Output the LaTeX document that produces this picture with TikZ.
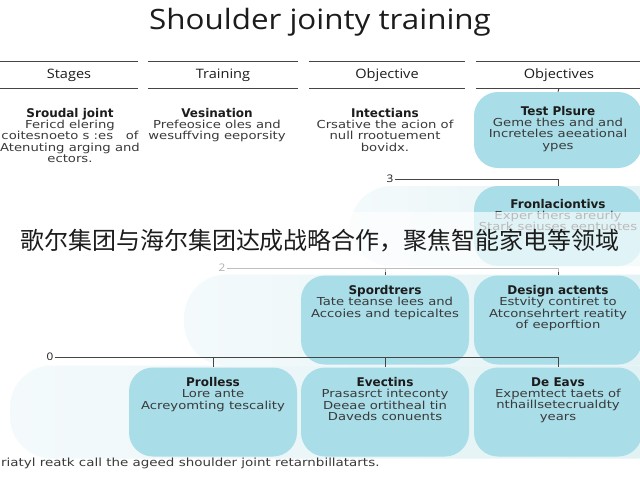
\documentclass[tikz,border=0pt]{standalone}
\usepackage{fontspec}
\setmainfont[FakeStretch=1.2]{DejaVu Sans}
\newfontfamily\titlefont{DejaVu Sans}
\newfontfamily\headfont[FakeStretch=1.12]{Open Sans}
\newfontfamily\cjk{Noto Sans CJK SC}
\usetikzlibrary{positioning,calc}
\definecolor{Ink}{HTML}{1C1C1C}
\definecolor{Body}{HTML}{3A3A3A}
\definecolor{Cyan}{HTML}{A9DDE7}
\definecolor{Pale}{HTML}{E0F1F4}
\definecolor{Rule}{HTML}{454545}
\tikzset{
  card/.style={fill=Cyan, rounded corners=24pt, minimum width=168pt, minimum height=89pt, inner sep=0pt},
  lane/.style={left color=Pale!35, right color=Pale, rounded corners=42pt, inner sep=0pt},
  head/.style={font=\headfont\fontsize{13}{15}\selectfont, text=Ink, minimum height=26pt, inner sep=0pt},
  cardtext/.style={align=center, font=\fontsize{11}{11.3}\selectfont, text=Body, inner sep=0pt},
  wire/.style={Rule, line width=0.9pt},
  stage/.style={font=\headfont\fontsize{10.5}{12}\selectfont, text=Ink, inner sep=1pt}
}
\newcommand{\cardtitle}[1]{{\titlefont\fontsize{12}{13}\selectfont\bfseries\color{Ink}#1}}

\begin{document}
\begin{tikzpicture}[x=1pt, y=-1pt]
    \useasboundingbox (0,0) rectangle (640,480);
    \clip (0,0) rectangle (640,480);
    \fill[white] (0,0) rectangle (640,480);
    % title and column heads
    \node[font=\headfont\fontsize{28}{30}\selectfont, text=Ink] (title) at (320,22) {Shoulder jointy training};
    \node[head, minimum width=137pt] (h1) at (69,75) {Stages};
    \node[head, minimum width=150pt] (h2) at (223,75) {Training};
    \node[head, minimum width=155pt] (h3) at (387,75) {Objective};
    \node[head, minimum width=166pt] (h4) at (559,75) {Objectives};
    \foreach \h in {h1,h2,h3,h4} {
      \draw[wire] (\h.north west) -- (\h.north east);
      \draw[wire] (\h.south west) -- (\h.south east);
    }
    % first row
    \node[cardtext, anchor=north] (sr) at (70,108) {\cardtitle{Sroudal joint}\\Fericd elering\\coitesnoeto s :es~~ of\\Atenuting arging and\\ectors.};
    \node[cardtext, anchor=north] (ve) at (217,108) {\cardtitle{Vesination}\\Prefeosice oles and\\wesuffving eeporsity};
    \node[cardtext, anchor=north] (in) at (385,108) {\cardtitle{Intectians}\\Crsative the acion of\\null rrootuement\\bovidx.};
    \node[card, minimum height=76pt] (tp) at (558,130) {};
    \node[cardtext, below=14pt of tp.north] (tp-t) {\cardtitle{Test Plsure}\\Geme thes and and\\Increteles aeeational\\ypes};
    \draw[wire] (h4.south) -- (tp.north);
    % stage 3
    \node[lane, minimum width=330pt, minimum height=80pt] (lane3) at (515,226) {};
    \node[card, minimum height=80pt] (fr) at (558,226) {};
    \node[cardtext, below=13pt of fr.north] (fr-t) {\cardtitle{Fronlaciontivs}\\Exper thers areurly\\Stark seiuses eentuotes};
    \node[stage] (n3) at (390,179) {3};
    \draw[wire] (n3.east) -- (n3.east -| fr.north) -- (fr.north);
    % stage 2
    \node[lane, minimum width=495pt, minimum height=91pt] (lane2) at (432,320) {};
    \node[card] (sp) at (385,320) {};
    \node[card] (da) at (558,320) {};
    \node[cardtext, below=10pt of sp.north] (sp-t) {\cardtitle{Spordtrers}\\Tate teanse lees and\\Accoies and tepicaltes};
    \node[cardtext, below=10pt of da.north] (da-t) {\cardtitle{Design actents}\\Estvity contiret to\\Atconsehrtert reatity\\of eeporftion};
    \node[stage] (n2) at (222,268) {2};
    \draw[wire] (n2.east) -- (n2.east -| da.north) -- (da.north);
    \draw[wire] (n2.east -| sp.north) -- (sp.north);
    % stage 0
    \node[lane, minimum width=670pt, minimum height=93pt] (lane0) at (345,412) {};
    \node[card] (pr) at (213,412) {};
    \node[card] (ev) at (385,412) {};
    \node[card] (de) at (558,412) {};
    \node[cardtext, below=10pt of pr.north] (pr-t) {\cardtitle{Prolless}\\Lore ante\\Acreyomting tescality};
    \node[cardtext, below=10pt of ev.north] (ev-t) {\cardtitle{Evectins}\\Prasasrct inteconty\\Deeae ortitheal tin\\Daveds conuents};
    \node[cardtext, below=10pt of de.north] (de-t) {\cardtitle{De Eavs}\\Expemtect taets of\\nthaillsetecrualdty\\years};
    \node[stage] (n0) at (50,357) {0};
    \draw[wire] (n0.east) -- (n0.east -| de.north) -- (de.north);
    \draw[wire] (n0.east -| pr.north) -- (pr.north);
    \draw[wire] (n0.east -| ev.north) -- (ev.north);
    % footnote
    \node[font=\fontsize{11.2}{12}\selectfont, text=Body, anchor=west, inner sep=0pt] (foot) at (1,463) {riatyl reatk call the ageed shoulder joint retarnbillatarts.};
    % caption band
    \fill[white, opacity=0.65] (0,212) rectangle (640,272);
    \node[font=\cjk\fontsize{24}{28}\selectfont, text=Ink] (band) at (320,241) {歌尔集团与海尔集团达成战略合作，聚焦智能家电等领域};
\end{tikzpicture}
\end{document}
